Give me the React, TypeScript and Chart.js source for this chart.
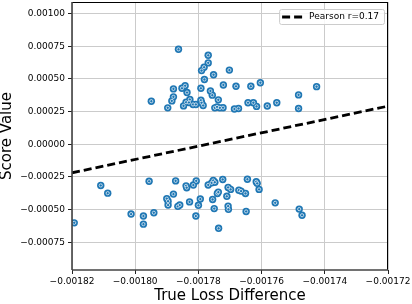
import React, { useEffect, useRef } from 'react';
import { Chart, registerables } from 'chart.js';

Chart.register(...registerables);

// Upper cluster (positive scores)
const upperX = [
  -0.0017949, -0.0017897, -0.0017884, -0.0017879, -0.0017879, -0.0017863, -0.0017852, -0.0017842,
  -0.0017836, -0.0017827, -0.0017847, -0.0017839, -0.001783, -0.0017817, -0.0017808, -0.0017792,
  -0.0017792, -0.001779, -0.0017785, -0.001779, -0.0017782, -0.0017781, -0.0017769, -0.0017769,
  -0.0017762, -0.0017756, -0.0017752, -0.0017748, -0.0017741, -0.0017737, -0.0017732, -0.0017722,
  -0.0017721, -0.0017702, -0.0017686, -0.0017681, -0.0017673, -0.0017643, -0.0017634, -0.0017626,
  -0.0017616, -0.0017604, -0.0017582, -0.0017552, -0.0017483, -0.0017483, -0.0017426,
];
const upperY = [
  0.000329, 0.000278, 0.000331, 0.000362, 0.000423, 0.000726, 0.000428, 0.000447,
  0.000395, 0.000342, 0.000293, 0.000321, 0.000319, 0.000304, 0.000304, 0.000428,
  0.000336, 0.000317, 0.000296, 0.000563, 0.000589, 0.000495, 0.00068, 0.000622,
  0.000407, 0.000375, 0.000531, 0.000278, 0.000285, 0.000339, 0.000278, 0.000279,
  0.000453, 0.000567, 0.000269, 0.000443, 0.000273, 0.000317, 0.000443, 0.000317,
  0.000289, 0.00047, 0.000292, 0.000317, 0.000377, 0.000273, 0.00044,
];

// Lower cluster (negative scores)
const lowerX = [
  -0.0018193, -0.0018109, -0.0018087, -0.0018013, -0.0017974, -0.0017974, -0.0017956, -0.0017941,
  -0.00179, -0.0017896, -0.0017896, -0.0017879, -0.0017872, -0.0017865, -0.0017859, -0.0017839,
  -0.0017837, -0.0017828, -0.0017816, -0.0017807, -0.0017808, -0.00178, -0.0017794, -0.0017769,
  -0.0017758, -0.0017753, -0.0017748, -0.0017755, -0.001775, -0.001774, -0.0017737, -0.0017736,
  -0.0017723, -0.001771, -0.0017706, -0.0017698, -0.0017706, -0.0017705, -0.0017672, -0.0017665,
  -0.0017651, -0.0017649, -0.0017645, -0.0017617, -0.0017614, -0.0017608, -0.0017557, -0.0017481,
  -0.0017472,
];
const lowerY = [
  -0.000602, -0.000316, -0.000375, -0.000535, -0.00055, -0.000612, -0.000284, -0.000525,
  -0.000417, -0.000436, -0.000466, -0.000382, -0.000281, -0.000476, -0.000466, -0.000319,
  -0.000333, -0.000442, -0.000313, -0.000281, -0.00055, -0.000468, -0.00042, -0.000312,
  -0.000296, -0.000278, -0.000291, -0.000423, -0.000493, -0.000377, -0.000367, -0.000644,
  -0.00027, -0.000399, -0.000331, -0.000346, -0.000474, -0.000499, -0.000352, -0.000359,
  -0.000377, -0.000515, -0.000268, -0.000288, -0.0003, -0.000346, -0.000449, -0.000497,
  -0.000544,
];

// Regression fit line
const fitX = [-0.00182, -0.00172];
const fitY = [-0.000219, 0.000291];

const xTicks = [-0.00182, -0.0018, -0.00178, -0.00176, -0.00174, -0.00172];
const yTicks = [-0.00075, -0.0005, -0.00025, 0, 0.00025, 0.0005, 0.00075, 0.001];
const xRange = [-0.00182, -0.00172];
const yRange = [-0.000963, 0.001088];

const legendLabel = 'Pearson r=0.17';
const xTitle = 'True Loss Difference';
const yTitle = 'Score Value';

const FONT = 'DejaVu Sans';
const BLUE = '#1f77b4';

const fmt = (v: number) => {
  const s = Math.abs(v) < 1e-12 ? '0.00000' : v.toFixed(5);
  return s.replace('-', '\u2212');
};

const framePlugin = {
  id: 'frameLegend',
  afterDatasetsDraw(chart: any) {
    const { ctx, chartArea } = chart;
    const { left, right, top, bottom } = chartArea;
    ctx.save();
    // spines
    ctx.strokeStyle = '#000';
    ctx.lineWidth = 1;
    ctx.beginPath();
    ctx.moveTo(left, top + 0.5);
    ctx.lineTo(right, top + 0.5);
    ctx.moveTo(right - 0.5, top);
    ctx.lineTo(right - 0.5, bottom);
    ctx.stroke();
    ctx.strokeStyle = '#444';
    ctx.lineWidth = 1.6;
    ctx.beginPath();
    ctx.moveTo(left, top);
    ctx.lineTo(left, bottom);
    ctx.moveTo(left, bottom);
    ctx.lineTo(right, bottom);
    ctx.stroke();

    // legend
    ctx.font = `9px "${FONT}"`;
    const tw = ctx.measureText(legendLabel).width;
    const bw = 3 + 21 + 6 + tw + 5;
    const bh = 15;
    const bx = right - 4 - bw;
    const by = top + 7;
    ctx.beginPath();
    if ((ctx as any).roundRect) {
      (ctx as any).roundRect(bx + 0.5, by + 0.5, bw, bh, 2);
    } else {
      ctx.rect(bx + 0.5, by + 0.5, bw, bh);
    }
    ctx.fillStyle = 'rgba(255,255,255,0.85)';
    ctx.fill();
    ctx.strokeStyle = '#cccccc';
    ctx.lineWidth = 1;
    ctx.stroke();
    const cy = by + bh / 2 + 0.5;
    ctx.beginPath();
    ctx.setLineDash([8, 4]);
    ctx.strokeStyle = '#000';
    ctx.lineWidth = 2.8;
    ctx.moveTo(bx + 3, cy);
    ctx.lineTo(bx + 24, cy);
    ctx.stroke();
    ctx.setLineDash([]);
    ctx.fillStyle = '#000';
    ctx.textBaseline = 'middle';
    ctx.textAlign = 'left';
    ctx.fillText(legendLabel, bx + 30, cy);
    ctx.restore();
  },
};

export default function App() {
  const ref = useRef<HTMLCanvasElement | null>(null);
  useEffect(() => {
    if (!ref.current) return;
    const pts = (xs: number[], ys: number[]) => xs.map((x, i) => ({ x, y: ys[i] }));
    const allX = [...upperX, ...lowerX];
    const allY = [...upperY, ...lowerY];
    const chart = new Chart(ref.current, {
      type: 'scatter',
      data: {
        datasets: [
          {
            label: legendLabel,
            data: pts(fitX, fitY),
            showLine: true,
            borderColor: '#000',
            borderWidth: 2.8,
            borderDash: [8, 4],
            pointRadius: 0,
            fill: false,
          } as any,
          {
            label: 'inner',
            data: pts(allX, allY),
            pointRadius: 1.6,
            backgroundColor: BLUE,
            borderColor: 'rgba(255,255,255,0.85)',
            borderWidth: 0.8,
          },
          {
            label: 'outer',
            data: pts(allX, allY),
            pointRadius: 3.7,
            backgroundColor: BLUE,
            borderWidth: 0,
          },
        ],
      },
      options: {
        responsive: false,
        animation: false,
        devicePixelRatio: 1,
        layout: { autoPadding: false, padding: { top: 2, right: 24, left: 0, bottom: 0 } },
        plugins: { legend: { display: false }, tooltip: { enabled: false } },
        scales: {
          x: {
            type: 'linear',
            min: xRange[0],
            max: xRange[1],
            afterBuildTicks: (s: any) => {
              s.ticks = xTicks.map((v) => ({ value: v }));
            },
            afterFit: (s: any) => {
              s.height = 34;
              s.paddingLeft = 0;
              s.paddingRight = 0;
            },
            ticks: {
              callback: (v: any) => fmt(Number(v)),
              color: '#000',
              font: { family: FONT, size: 9 },
              padding: 2,
              maxRotation: 0,
              autoSkip: false,
            },
            grid: { color: '#cbcbcb', lineWidth: 1, tickColor: '#222', tickLength: 4, tickWidth: 1 },
            border: { display: false },
            title: {
              display: true,
              text: xTitle,
              color: '#000',
              font: { family: FONT, size: 15, lineHeight: 1 },
              padding: 0,
            },
          },
          y: {
            type: 'linear',
            min: yRange[0],
            max: yRange[1],
            afterBuildTicks: (s: any) => {
              s.ticks = yTicks.map((v) => ({ value: v }));
            },
            afterFit: (s: any) => {
              s.width = 72;
              s.paddingTop = 0;
              s.paddingBottom = 0;
            },
            ticks: {
              callback: (v: any) => fmt(Number(v)),
              color: '#000',
              font: { family: FONT, size: 9 },
              padding: 3,
              autoSkip: false,
            },
            grid: { color: '#cbcbcb', lineWidth: 1, tickColor: '#222', tickLength: 4, tickWidth: 1 },
            border: { display: false },
            title: {
              display: true,
              text: yTitle,
              color: '#000',
              font: { family: FONT, size: 15, lineHeight: 1 },
              padding: 0,
            },
          },
        },
      } as any,
      plugins: [framePlugin],
    });
    return () => chart.destroy();
  }, []);
  return (
    <div style={{ position: 'absolute', left: 0, top: 0, width: 412, height: 304, background: '#fff' }}>
      <canvas ref={ref} width={412} height={304} style={{ display: 'block' }} />
    </div>
  );
}
